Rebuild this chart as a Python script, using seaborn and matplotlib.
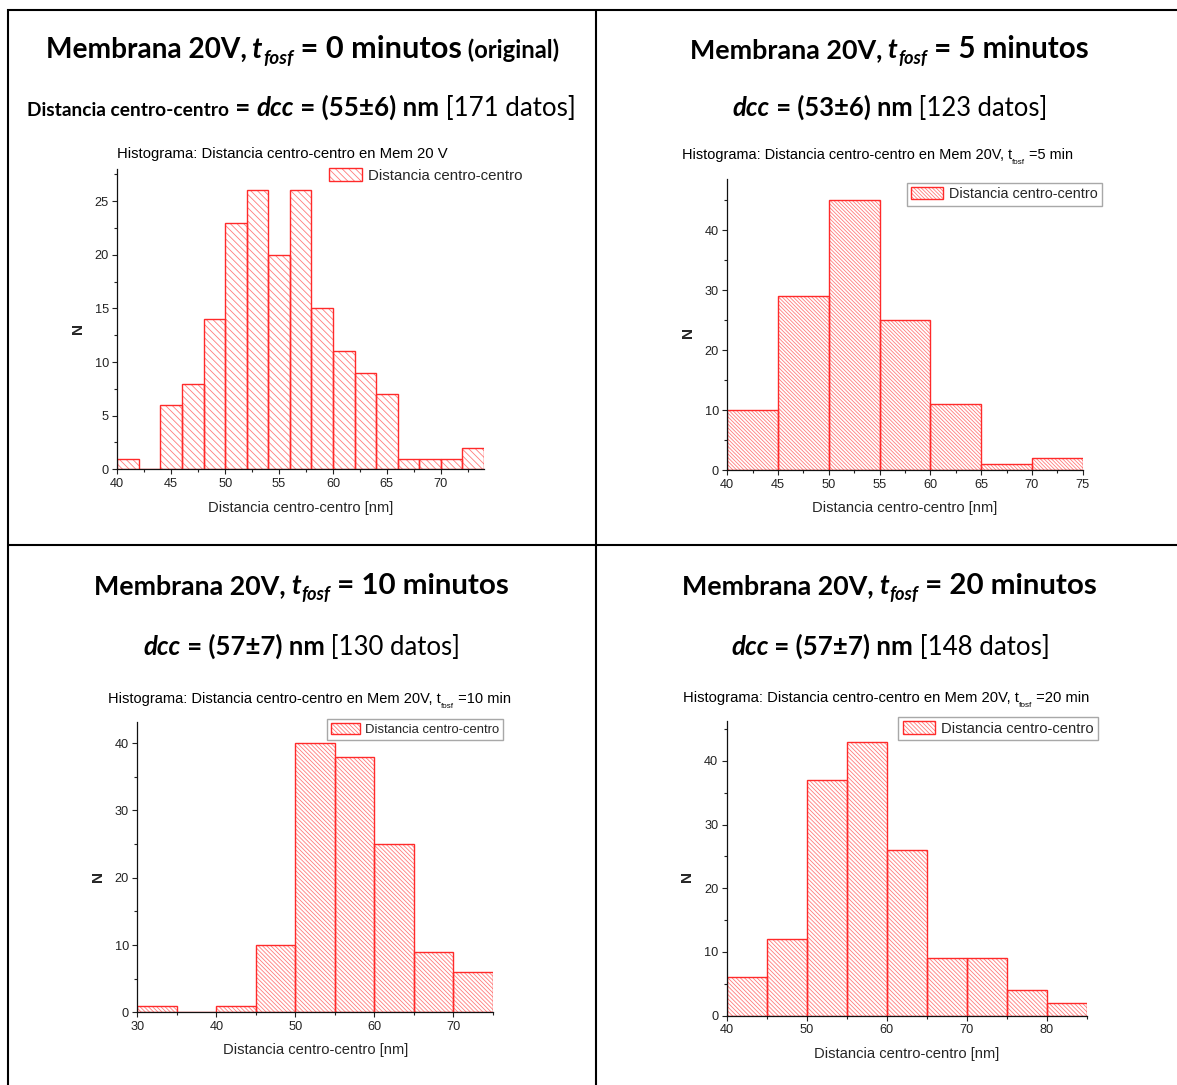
import numpy as np
import pandas as pd
import matplotlib
matplotlib.use("Agg")
import matplotlib.pyplot as plt
import seaborn as sns
from matplotlib.ticker import MultipleLocator
from matplotlib.patches import Patch
from matplotlib.lines import Line2D
from matplotlib.font_manager import FontProperties

# ---------------- data ----------------
bins_0min = [40, 42, 44, 46, 48, 50, 52, 54, 56, 58, 60, 62, 64, 66, 68, 70, 72, 74]
counts_0min = [1, 0, 6, 8, 14, 23, 26, 20, 26, 15, 11, 9, 7, 1, 1, 1, 2]
bins_5min = [40, 45, 50, 55, 60, 65, 70, 75]
counts_5min = [10, 29, 45, 25, 11, 1, 2]
bins_10min = [30, 35, 40, 45, 50, 55, 60, 65, 70, 75]
counts_10min = [1, 0, 1, 10, 40, 38, 25, 9, 6]
bins_20min = [40, 45, 50, 55, 60, 65, 70, 75, 80, 85]
counts_20min = [6, 12, 37, 43, 26, 9, 9, 4, 2]

t_fosf = ["0", "5", "10", "20"]
dcc_vals = ["55±6", "53±6", "57±7", "57±7"]
n_datos = [171, 123, 130, 148]
series_label = "Distancia centro-centro"
x_label = "Distancia centro-centro [nm]"
y_label = "N"

# ---------------- style ----------------
sns.set_style("ticks")
plt.rcParams["font.family"] = ["Liberation Sans", "DejaVu Sans"]
plt.rcParams["hatch.linewidth"] = 0.6

W, H = 1177, 1085
fig = plt.figure(figsize=(W / 100, H / 100), dpi=100)
renderer = fig.canvas.get_renderer()

EDGE = "#ff2a2a"
HATCH = "#ff7c7c"


def adv(s, fp):
    t1 = fig.text(0, 0, "|" + s + "|", fontproperties=fp)
    t2 = fig.text(0, 0, "||", fontproperties=fp)
    w = t1.get_window_extent(renderer).width - t2.get_window_extent(renderer).width
    t1.remove()
    t2.remove()
    return w


def rich(segs, cx, base_y, width, family):
    def mk(rel, weight, style, size):
        return FontProperties(family=family, size=size * rel, weight=weight, style=style)
    base = 10.0
    total = sum(adv(s, mk(r, w, st, base)) for s, r, w, st, dy in segs)
    size = base * width / total
    x = cx - width / 2
    for s, r, w, st, dy in segs:
        p = mk(r, w, st, size)
        yy = base_y + dy * size * 100 / 72
        fig.text(x / W, 1 - yy / H, s, fontproperties=p, ha="left", va="baseline", color="black")
        x += adv(s, p)


# ---------------- table borders ----------------
def hline(y, x0, x1):
    fig.add_artist(Line2D([x0 / W, x1 / W], [1 - y / H, 1 - y / H], transform=fig.transFigure,
                          color="black", lw=1.5, solid_capstyle="butt"))


def vline(x, y0, y1):
    fig.add_artist(Line2D([x / W, x / W], [1 - y0 / H, 1 - y1 / H], transform=fig.transFigure,
                          color="black", lw=1.5, solid_capstyle="butt"))


hline(10, 7, 1177)
hline(545, 7, 1177)
vline(8, 9, 1085)
vline(596, 9, 1085)

# ---------------- panels ----------------
panels = [
    dict(bins=bins_0min, counts=counts_0min, box=(117.3, 484.0, 169.0, 469.3), xlim=(40, 74), ylim=(0, 28),
         xmaj=5, xmin=2.5, ymaj=5, ymin=2.5, hatch="\\" * 5,
         ylab=(78, 329), xlab_y=508, leg=(527, 164), leg_fs=10.8, leg_frame=False,
         sub=[("Histograma: Distancia centro-centro en Mem 20 V", 1, "normal", "normal", 0)],
         sub_pos=(283, 158, 332)),
    dict(bins=bins_5min, counts=counts_5min, box=(727.3, 1082.7, 179.3, 470.3), xlim=(40, 75), ylim=(0, 48.5),
         xmaj=5, xmin=2.5, ymaj=10, ymin=5, hatch="\\" * 9,
         ylab=(688, 333), xlab_y=508, leg=(1102, 183), leg_fs=10.4, leg_frame=True,
         sub=[("Histograma: Distancia centro-centro en Mem 20V, t", 1, "normal", "normal", 0),
              ("fosf", 0.55, "normal", "normal", 0.35), (" =5 min", 1, "normal", "normal", 0)],
         sub_pos=(877.5, 159, 391)),
    dict(bins=bins_10min, counts=counts_10min, box=(137.3, 493.0, 721.7, 1012.3), xlim=(30, 75), ylim=(0, 43.2),
         xmaj=10, xmin=5, ymaj=10, ymin=5, hatch="\\" * 8,
         ylab=(98, 877), xlab_y=1050, leg=(503, 719), leg_fs=9.4, leg_frame=True,
         sub=[("Histograma: Distancia centro-centro en Mem 20V, t", 1, "normal", "normal", 0),
              ("fosf", 0.55, "normal", "normal", 0.35), (" =10 min", 1, "normal", "normal", 0)],
         sub_pos=(308, 703, 400)),
    dict(bins=bins_20min, counts=counts_20min, box=(726.7, 1086.7, 720.7, 1015.7), xlim=(40, 85), ylim=(0, 46.3),
         xmaj=10, xmin=5, ymaj=10, ymin=5, hatch="\\" * 8,
         ylab=(687, 877), xlab_y=1054, leg=(1098, 717), leg_fs=10.6, leg_frame=True,
         sub=[("Histograma: Distancia centro-centro en Mem 20V, t", 1, "normal", "normal", 0),
              ("fosf", 0.55, "normal", "normal", 0.35), (" =20 min", 1, "normal", "normal", 0)],
         sub_pos=(885.5, 702, 405)),
]

for p in panels:
    l, r, t, b = p["box"]
    ax = fig.add_axes([l / W, 1 - b / H, (r - l) / W, (b - t) / H])
    edges = [float(e) for e in p["bins"]]
    centers = [(edges[k] + edges[k + 1]) / 2 for k in range(len(edges) - 1)]
    df = pd.DataFrame({"x": centers, "n": [float(c) for c in p["counts"]]})
    # hatched fill layer
    sns.histplot(data=df, x="x", weights="n", bins=edges, ax=ax, stat="count",
                 facecolor="white", edgecolor=HATCH, hatch=p["hatch"], linewidth=0)
    # outline layer
    sns.histplot(data=df, x="x", weights="n", bins=edges, ax=ax, stat="count",
                 facecolor="none", edgecolor=EDGE, linewidth=1.0)
    ax.set_xlim(*p["xlim"])
    ax.set_ylim(*p["ylim"])
    ax.xaxis.set_major_locator(MultipleLocator(p["xmaj"]))
    ax.xaxis.set_minor_locator(MultipleLocator(p["xmin"]))
    ax.yaxis.set_major_locator(MultipleLocator(p["ymaj"]))
    ax.yaxis.set_minor_locator(MultipleLocator(p["ymin"]))
    ax.tick_params(which="major", direction="out", length=3.6, width=0.8, labelsize=9.2, pad=2.5,
                   color="#222222", labelcolor="#222222")
    ax.tick_params(which="minor", direction="out", length=2.2, width=0.8, color="#222222")
    for s in ["top", "right"]:
        ax.spines[s].set_visible(False)
    for s in ["left", "bottom"]:
        ax.spines[s].set_linewidth(0.9)
        ax.spines[s].set_color("#111111")
    ax.set_facecolor("none")

    ax.set_xlabel(x_label, fontsize=10.6)
    ax.xaxis.label.set_va("center")
    ax.xaxis.set_label_coords(0.5, -(p["xlab_y"] - b) / (b - t))
    ax.set_ylabel(y_label, fontsize=11, fontweight="bold")
    ax.yaxis.label.set_va("center")
    ax.yaxis.set_label_coords((p["ylab"][0] - l) / (r - l), (b - p["ylab"][1]) / (b - t))

    h1 = Patch(facecolor="white", edgecolor=HATCH, hatch=p["hatch"], linewidth=0)
    h2 = Patch(facecolor="none", edgecolor=EDGE, linewidth=1.0)
    lx, ly = p["leg"]
    leg = ax.legend([(h1, h2)], [series_label], loc="upper right",
                    bbox_to_anchor=(lx / W, 1 - ly / H), bbox_transform=fig.transFigure,
                    fontsize=p["leg_fs"], frameon=p["leg_frame"], fancybox=False, borderpad=0.3,
                    handlelength=2.2, handleheight=0.9, handletextpad=0.4, borderaxespad=0)
    if p["leg_frame"]:
        leg.get_frame().set_edgecolor("#a8a8a8")
        leg.get_frame().set_linewidth(1.0)
        leg.get_frame().set_alpha(1)

    sx, sy, sw = p["sub_pos"]
    rich(p["sub"], sx, sy, sw, "Liberation Sans")

# ---------------- headers ----------------
HF = "Lato"
header_cells = [(302, 58, 116), (890, 58, 116), (302, 594, 655), (890, 594, 655)]
line1_w = [513, 400, 416, 416]
line2_w = [550, 315, 317, 318]
for i, (cx, y1, y2) in enumerate(header_cells):
    segs1 = [("Membrana 20V,", 1.0, "bold", "normal", 0),
             (" t", 1.0, "bold", "italic", 0),
             ("fosf", 0.68, "bold", "italic", 0.22),
             (" = " + t_fosf[i] + " minutos", 1.1, "bold", "normal", 0)]
    if i == 0:
        segs1.append((" (original)", 0.85, "bold", "normal", 0))
    rich(segs1, cx, y1, line1_w[i], HF)
    segs2 = []
    if i == 0:
        segs2 += [("Distancia centro-centro", 0.74, "bold", "normal", 0),
                  (" = ", 1.0, "bold", "normal", 0),
                  ("dcc", 1.0, "bold", "italic", 0)]
    else:
        segs2 += [("dcc", 1.0, "bold", "italic", 0)]
    segs2 += [(" = (" + dcc_vals[i] + ") nm", 1.0, "bold", "normal", 0),
              (" [" + str(n_datos[i]) + " datos]", 1.0, "normal", "normal", 0)]
    rich(segs2, cx, y2, line2_w[i], HF)

fig.savefig("out.png", dpi=100, facecolor="white")
